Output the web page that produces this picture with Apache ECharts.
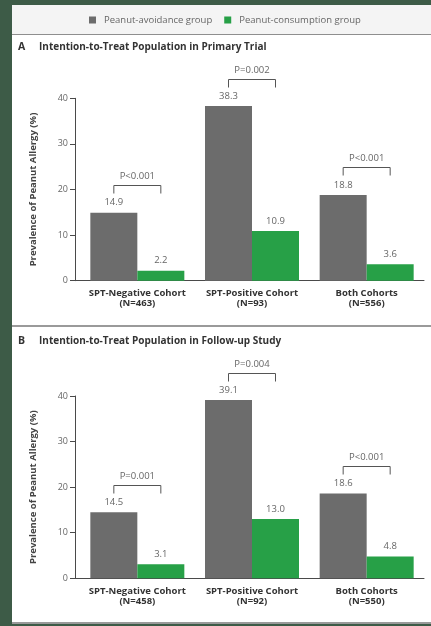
<!DOCTYPE html>
<html>
<head>
<meta charset="utf-8">
<script src="https://cdn.jsdelivr.net/npm/echarts@6/dist/echarts.min.js"></script>
<style>
html,body{margin:0;padding:0;width:431px;height:626px;overflow:hidden;background:#3d5b47;}
#panel{position:absolute;left:12px;top:5px;width:419px;height:617px;background:#fff;border-bottom:2px solid #9a9a9a;}
#legendband{position:absolute;left:12px;top:5px;width:419px;height:29px;background:#f4f4f4;border-bottom:1px solid #8e8e8e;}
#sep{position:absolute;left:12px;top:325px;width:419px;height:2px;background:#9a9a9a;}
#chart{position:absolute;left:0;top:0;width:431px;height:626px;}
</style>
</head>
<body>
<div id="panel"></div>
<div id="legendband"></div>
<div id="sep"></div>
<div id="chart"></div>
<script>
// ---- data ----
const categories = ['SPT-Negative Cohort', 'SPT-Positive Cohort', 'Both Cohorts'];
const nPrimary = ['(N=463)', '(N=93)', '(N=556)'];
const nFollow = ['(N=458)', '(N=92)', '(N=550)'];
const seriesNames = ['Peanut-avoidance group', 'Peanut-consumption group'];
const avoidPrimary = [14.9, 38.3, 18.8];
const consumePrimary = [2.2, 10.9, 3.6];
const pPrimary = ['P<0.001', 'P=0.002', 'P<0.001'];
const avoidFollow = [14.5, 39.1, 18.6];
const consumeFollow = [3.1, 13.0, 4.8];
const pFollow = ['P=0.001', 'P=0.004', 'P<0.001'];
const yMin = 0, yMax = 40, yStep = 10;
const panelTitles = ['Intention-to-Treat Population in Primary Trial', 'Intention-to-Treat Population in Follow-up Study'];
const panelLetters = ['A', 'B'];
const yName = 'Prevalence of Peanut Allergy (%)';

// ---- style ----
const FONT = '"Open Sans", "DejaVu Sans", sans-serif';
const GRAY = '#6c6c6c', GREEN = '#27a047';
const BAR_W = 47;
const AX = '#4a4a4a';

const chart = echarts.init(document.getElementById('chart'), null, {renderer: 'canvas'});

const panels = [
  {avoid: avoidPrimary, consume: consumePrimary, p: pPrimary, n: nPrimary, top: 98.3, bottom: 345.3},
  {avoid: avoidFollow, consume: consumeFollow, p: pFollow, n: nFollow, top: 396, bottom: 47.7}
];

const grid = [], xAxis = [], yAxis = [], series = [];
panels.forEach((pn, i) => {
  const ga = grid.length;
  grid.push({left: 75, right: 7, top: pn.top, bottom: pn.bottom});
  grid.push({left: 80, right: 7, top: pn.top, bottom: pn.bottom});
  const gb = ga + 1;
  xAxis.push({type: 'category', gridIndex: ga, data: categories,
    axisLine: {show: true, lineStyle: {color: AX, width: 1}}, axisTick: {show: false}, axisLabel: {show: false}});
  yAxis.push({type: 'value', gridIndex: ga, min: yMin, max: yMax, interval: yStep,
    axisLine: {show: true, lineStyle: {color: AX, width: 1}},
    axisTick: {show: true, length: 5, lineStyle: {color: AX}},
    axisLabel: {color: '#666', fontSize: 9, fontFamily: FONT, margin: 7},
    splitLine: {show: false},
    name: yName, nameLocation: 'middle', nameGap: 37,
    nameTextStyle: {color: '#444', fontSize: 9.5, fontWeight: 'bold', fontFamily: FONT}});
  xAxis.push({type: 'category', gridIndex: gb, data: categories.map((c, k) => c + '\n' + pn.n[k]),
    axisLine: {show: false}, axisTick: {show: false},
    axisLabel: {color: '#333', fontSize: 9.5, fontWeight: 'bold', fontFamily: FONT, lineHeight: 10, margin: 8, interval: 0}});
  yAxis.push({type: 'value', gridIndex: gb, min: yMin, max: yMax, interval: yStep, show: false, splitLine: {show: false}});
  const xi = gb, yi = gb;
  const lbl = {show: true, position: 'top', distance: 5, color: '#666', fontSize: 9.5, fontFamily: FONT,
    formatter: p => p.value.toFixed(1)};
  series.push({type: 'bar', name: seriesNames[0], xAxisIndex: xi, yAxisIndex: yi, data: pn.avoid,
    barWidth: BAR_W, barGap: '0%', itemStyle: {color: GRAY}, label: lbl});
  series.push({type: 'bar', name: seriesNames[1], xAxisIndex: xi, yAxisIndex: yi, data: pn.consume,
    barWidth: BAR_W, barGap: '0%', itemStyle: {color: GREEN}, label: lbl});
  const pTexts = pn.p;
  series.push({type: 'custom', name: 'brackets' + i, xAxisIndex: xi, yAxisIndex: yi, clip: false, z: 5,
    data: pn.avoid.map((v, k) => [k, v]),
    renderItem: (params, api) => {
      const c = api.coord([api.value(0), api.value(1)]);
      const x1 = c[0] - BAR_W / 2, x2 = c[0] + BAR_W / 2;
      const top = Math.round(c[1] - 27.5) + 0.5;
      return {type: 'group', children: [
        {type: 'polyline', shape: {points: [[x1, top + 8], [x1, top], [x2, top], [x2, top + 8]]},
          style: {stroke: '#555', lineWidth: 1, fill: null}},
        {type: 'text', style: {x: c[0], y: top - 9, text: pTexts[params.dataIndex], align: 'center', verticalAlign: 'middle',
          fill: '#666', font: '9.5px ' + FONT}}
      ]};
    }});
});

const title = [];
[49, 343].forEach((cy, i) => {
  title.push({text: panelLetters[i], left: 18, top: cy - 7, padding: 0,
    textStyle: {fontSize: 10.5, fontWeight: 'bold', color: '#333', fontFamily: FONT}});
  title.push({text: panelTitles[i], left: 39, top: cy - 7, padding: 0,
    textStyle: {fontSize: 10, fontWeight: 'bold', color: '#333', fontFamily: FONT}});
});

chart.setOption({
  backgroundColor: 'transparent',
  animation: false,
  title: title,
  legend: {data: seriesNames, left: 89, top: 15, padding: 0, icon: 'rect', itemWidth: 7, itemHeight: 7, itemGap: 12,
    textStyle: {color: '#666', fontSize: 9.5, fontFamily: FONT, padding: [0, 0, 0, 3]}},
  grid: grid, xAxis: xAxis, yAxis: yAxis, series: series
});
</script>
</body>
</html>
